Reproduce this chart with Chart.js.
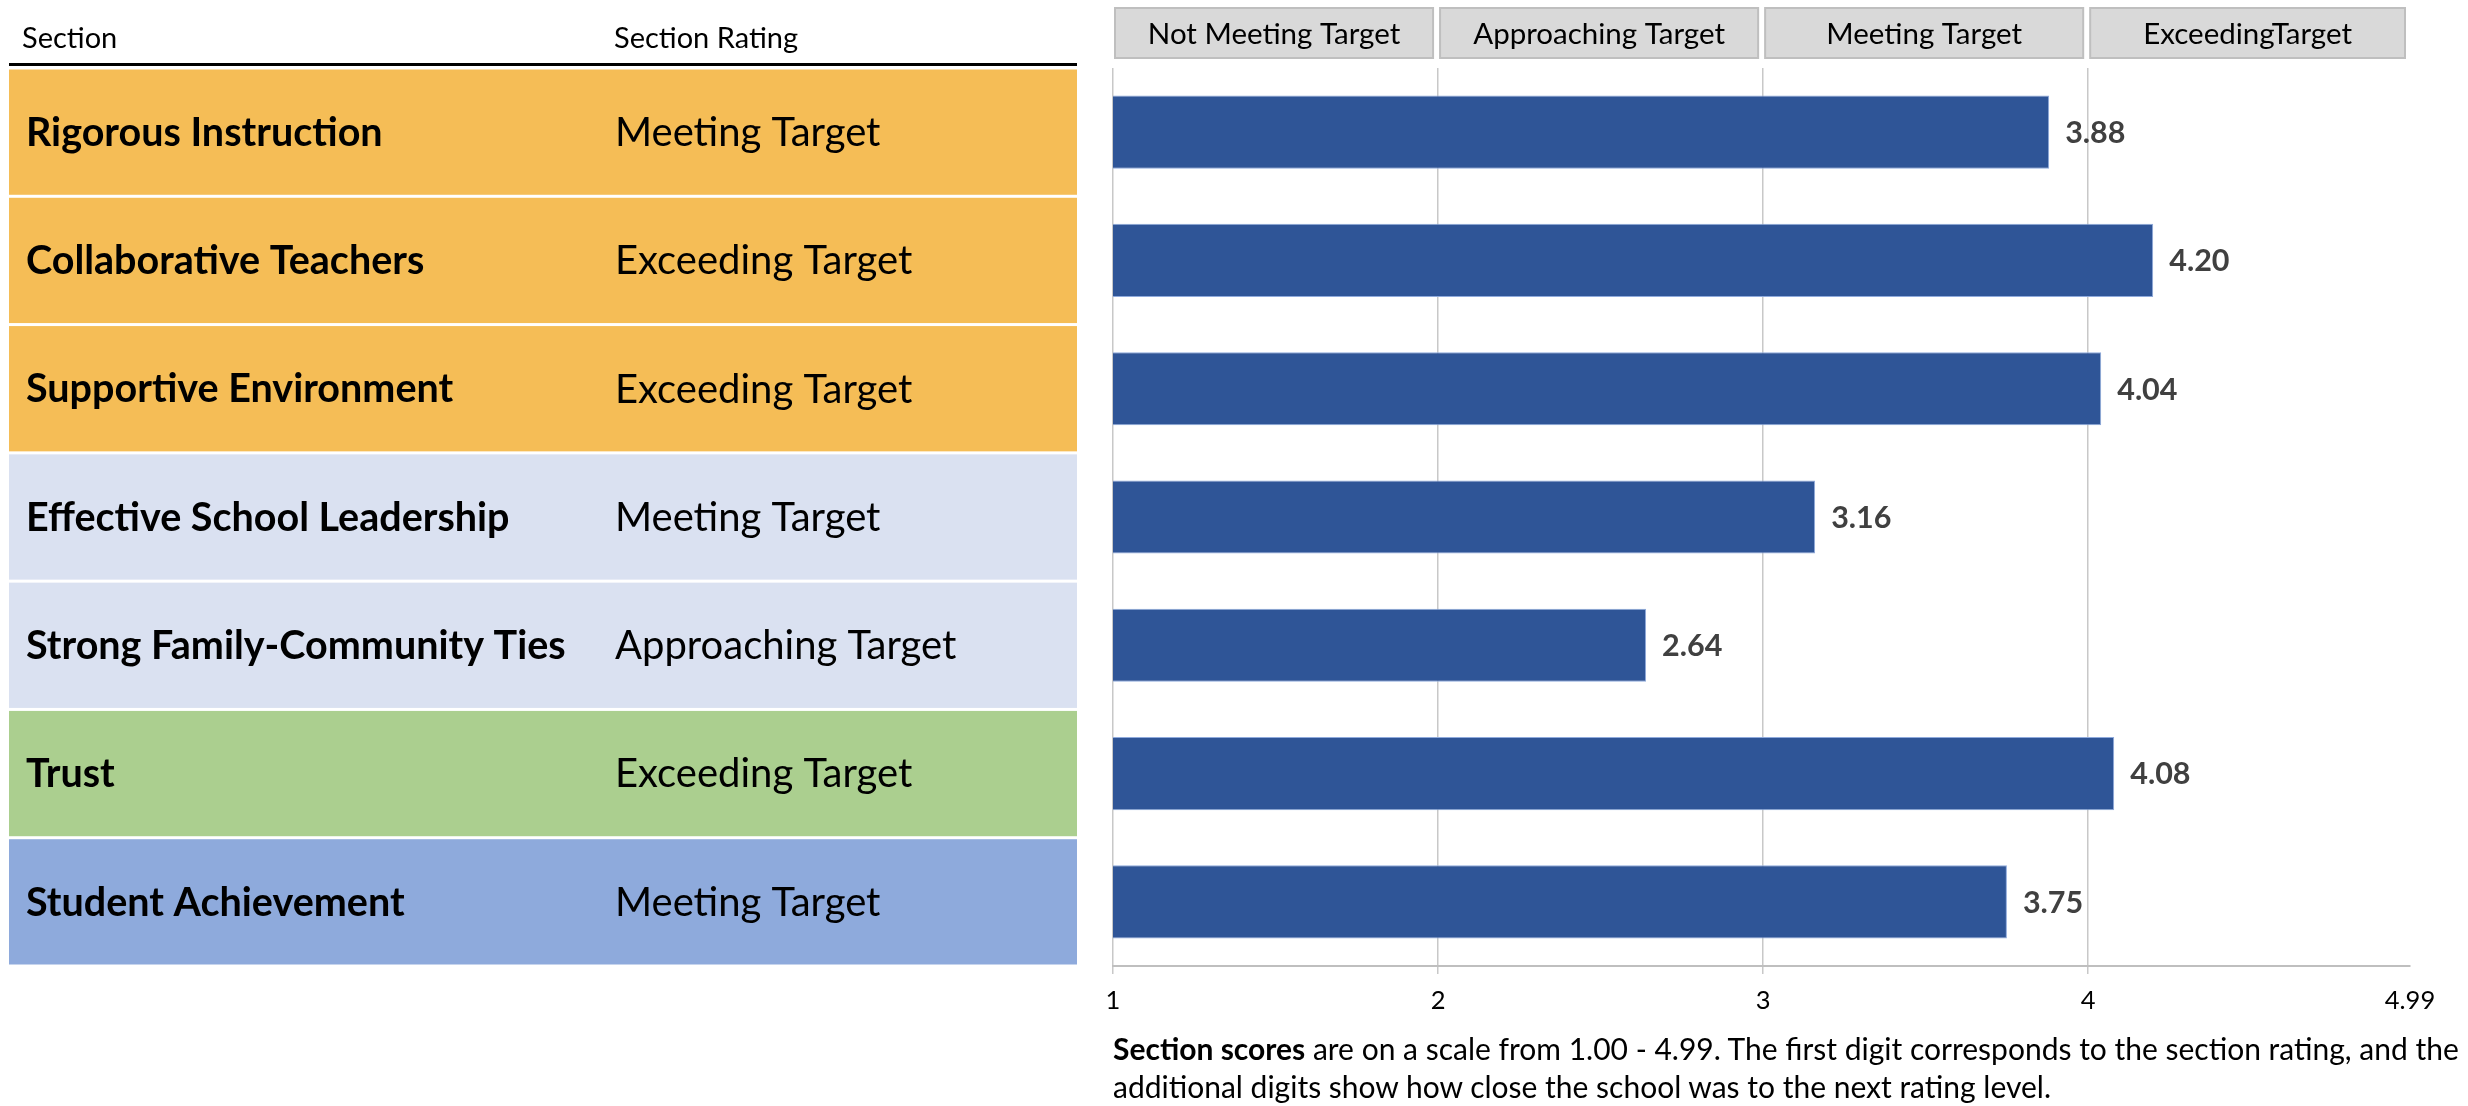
<!DOCTYPE html>
<html>
<head>
<meta charset="utf-8">
<script src="https://cdn.jsdelivr.net/npm/chart.js@4.4.0/dist/chart.umd.min.js"></script>
<style>
  body { margin: 0; background: #fff; overflow: hidden; }
  #wrap { position: relative; width: 2468px; height: 1106px; }
  #note {
    position: absolute; left: 1113px; top: 1029px;
    font-family: Lato, sans-serif; font-size: 30px; line-height: 38px; color: #000;
    white-space: nowrap;
  }
</style>
</head>
<body>
<div id="wrap">
  <canvas id="scores" width="2468" height="1106"></canvas>
  <div id="note"><b>Section scores</b> are on a scale from 1.00 - 4.99. The first digit corresponds to the section rating, and the<br>additional digits show how close the school was to the next rating level.</div>
</div>
<script>
var sections = ['Rigorous Instruction', 'Collaborative Teachers', 'Supportive Environment',
    'Effective School Leadership', 'Strong Family-Community Ties', 'Trust', 'Student Achievement'];
var ratings = ['Meeting Target', 'Exceeding Target', 'Exceeding Target', 'Meeting Target',
    'Approaching Target', 'Exceeding Target', 'Meeting Target'];
var scores = [3.88, 4.20, 4.04, 3.16, 2.64, 4.08, 3.75];

var tickValues = [1, 2, 3, 4, 4.99];
var tickLabels = ['1', '2', '3', '4', '4.99'];

var bandLabels = ['Not Meeting Target', 'Approaching Target', 'Meeting Target', 'ExceedingTarget'];
var bandStart = [1, 2, 3, 4];
var bandEnd = [2, 3, 4, 4.99];

// row fill colours of the section table
var rowColors = ['#f5bd56', '#f5bd56', '#f5bd56', '#dae1f1', '#dae1f1', '#abcf8f', '#8eaadc'];

var FONT = 'Lato, sans-serif';

// section table on the left, rows follow the bar categories
var tablePlugin = {
    id: 'sectionTable',
    beforeDraw: function(chart) {
        var ctx = chart.ctx;
        var y = chart.scales.y;
        var band = (chart.chartArea.bottom - chart.chartArea.top) / sections.length;
        ctx.save();
        // header
        ctx.fillStyle = '#000';
        ctx.font = '29px ' + FONT;
        ctx.textBaseline = 'alphabetic';
        ctx.textAlign = 'left';
        ctx.fillText('Section', 22, 48);
        ctx.fillText('Section Rating', 614, 48);
        ctx.fillRect(9, chart.chartArea.top - 5, 1068, 3);

        sections.forEach(function(name, i) {
            var cy = y.getPixelForValue(i);
            ctx.fillStyle = rowColors[i];
            ctx.fillRect(9, cy - band / 2 + 1.5, 1068, band - 3);
            ctx.fillStyle = '#000';
            ctx.textBaseline = 'middle';
            ctx.font = 'bold 39.5px ' + FONT;
            ctx.fillText(name, 26, cy + 1);
            ctx.font = '40px ' + FONT;
            ctx.fillText(ratings[i], 615, cy + 1);
        });

        // rating band headers above the plot
        var x = chart.scales.x;
        bandLabels.forEach(function(lbl, i) {
            var x0 = x.getPixelForValue(bandStart[i]) + 2;
            var x1 = x.getPixelForValue(bandEnd[i]) - 5;
            ctx.fillStyle = '#d9d9d9';
            ctx.fillRect(x0, 8, x1 - x0, 50);
            ctx.strokeStyle = '#bfbfbf';
            ctx.lineWidth = 2;
            ctx.strokeRect(x0, 8, x1 - x0, 50);
            ctx.fillStyle = '#000';
            ctx.font = '29.5px ' + FONT;
            ctx.textAlign = 'center';
            ctx.textBaseline = 'middle';
            ctx.fillText(lbl, (x0 + x1) / 2, 34);
        });
        ctx.restore();
    }
};

// score labels at the end of each bar
var valueLabels = {
    id: 'valueLabels',
    afterDatasetsDraw: function(chart) {
        var ctx = chart.ctx;
        var meta = chart.getDatasetMeta(0);
        ctx.save();
        ctx.font = 'bold 30.5px ' + FONT;
        ctx.fillStyle = '#404040';
        ctx.textAlign = 'left';
        ctx.textBaseline = 'middle';
        meta.data.forEach(function(bar, i) {
            ctx.fillText(scores[i].toFixed(2), bar.x + 16, bar.y + 1);
        });
        ctx.restore();
    }
};

var ctx = document.getElementById('scores').getContext('2d');
var chart = new Chart(ctx, {
    type: 'bar',
    data: {
        labels: sections,
        datasets: [{
            label: 'Section score',
            data: scores,
            backgroundColor: '#2f5597',
            borderColor: '#8faadc',
            borderWidth: 1,
            barPercentage: 0.57,
            categoryPercentage: 1
        }]
    },
    options: {
        indexAxis: 'y',
        responsive: false,
        animation: false,
        layout: { padding: { left: 1113, right: 58, top: 68, bottom: 0 } },
        plugins: {
            legend: { display: false },
            tooltip: { enabled: false }
        },
        scales: {
            x: {
                min: 1,
                max: 4.99,
                afterBuildTicks: function(scale) {
                    scale.ticks = tickValues.map(function(v) { return { value: v }; });
                },
                afterFit: function(scale) { scale.height = 140; },
                ticks: {
                    autoSkip: false,
                    maxRotation: 0,
                    padding: 11,
                    color: '#000',
                    font: { family: FONT, size: 25.5 },
                    callback: function(value, index) { return tickLabels[index]; }
                },
                grid: {
                    color: function(c) { return c.tick && c.tick.value === 4.99 ? 'rgba(0,0,0,0)' : '#c8c8c8'; },
                    lineWidth: 1.5,
                    tickLength: 8
                },
                border: { display: true, color: '#bfbfbf', width: 2 }
            },
            y: {
                display: false
            }
        }
    },
    plugins: [tablePlugin, valueLabels]
});
</script>
</body>
</html>
